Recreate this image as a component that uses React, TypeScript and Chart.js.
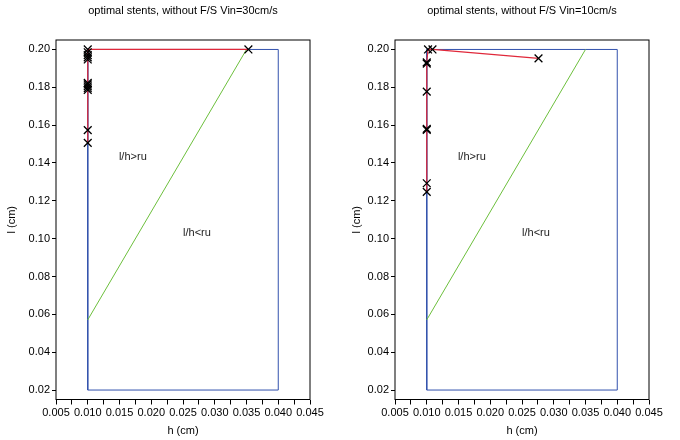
import React, { useEffect, useRef } from 'react';
import { Chart, registerables } from 'chart.js';

Chart.register(...registerables);

const FONT = "'Liberation Sans', Arial, Helvetica, sans-serif";

// ---- data ----
const chartTitles = ['optimal stents, without F/S Vin=30cm/s', 'optimal stents, without F/S Vin=10cm/s'];
const xTickValues = [0.005, 0.01, 0.015, 0.02, 0.025, 0.03, 0.035, 0.04, 0.045];
const yTickValues = [0.02, 0.04, 0.06, 0.08, 0.1, 0.12, 0.14, 0.16, 0.18, 0.2];
const xAxisLabel = 'h (cm)';
const yAxisLabel = 'l (cm)';

// admissible domain (blue box)
const boxH = [0.01, 0.04, 0.04, 0.01, 0.01];
const boxL = [0.02, 0.02, 0.2, 0.2, 0.02];

// l/h = ru line (green)
const ruLineH = [0.01, 0.035];
const ruLineL = [0.0571, 0.2];

// optimal stents, Vin = 30 cm/s
const optH30 = [0.01, 0.01, 0.01, 0.01, 0.01, 0.01, 0.01, 0.01, 0.01, 0.01, 0.01, 0.01, 0.0353];
const optL30 = [0.1506, 0.1574, 0.1786, 0.1795, 0.1805, 0.1815, 0.1823, 0.1947, 0.1958, 0.197, 0.1985, 0.2, 0.2];

// optimal stents, Vin = 10 cm/s
const optH10 = [0.01, 0.01, 0.01, 0.01, 0.01, 0.01, 0.01, 0.0102, 0.0109, 0.0276];
const optL10 = [0.1247, 0.1293, 0.1575, 0.158, 0.1777, 0.1925, 0.1932, 0.2, 0.2, 0.1953];

// region annotations
const regionText = ['l/h>ru', 'l/h<ru'];
const regionH = [0.0171, 0.0272];
const regionL = [0.1432, 0.103];

const toPts = (h: number[], l: number[]) => h.map((v, i) => ({ x: v, y: l[i] }));

function makeConfig(title: string, optH: number[], optL: number[], yWidth: number, rightPad: number, yTitlePad: number): any {
  const overlay = {
    id: 'overlay',
    afterDatasetsDraw(chart: any) {
      const { ctx, chartArea, scales } = chart;
      ctx.save();
      // frame
      ctx.strokeStyle = '#000';
      ctx.lineWidth = 1;
      ctx.strokeRect(chartArea.left, chartArea.top, chartArea.right - chartArea.left, chartArea.bottom - chartArea.top);
      // region texts
      ctx.fillStyle = '#222';
      ctx.font = `11px ${FONT}`;
      ctx.textAlign = 'center';
      ctx.textBaseline = 'middle';
      regionText.forEach((t, i) => {
        ctx.fillText(t, scales.x.getPixelForValue(regionH[i]), scales.y.getPixelForValue(regionL[i]));
      });
      // title
      ctx.fillStyle = '#000';
      ctx.font = `11px ${FONT}`;
      ctx.fillText(title, (chartArea.left + chartArea.right) / 2, 11);
      ctx.restore();
    },
  };

  return {
    type: 'scatter',
    data: {
      datasets: [
        {
          label: 'optimal',
          data: toPts(optH, optL),
          showLine: false,
          pointStyle: 'crossRot',
          pointRadius: 5.5,
          pointBorderColor: '#000',
          pointBackgroundColor: '#000',
          pointBorderWidth: 1.3,
        },
        {
          label: 'path',
          data: toPts(optH, optL),
          showLine: true,
          borderColor: '#e0283a',
          borderWidth: 1.2,
          pointRadius: 0,
        },
        {
          label: 'ru',
          data: toPts(ruLineH, ruLineL),
          showLine: true,
          borderColor: '#6cbf3c',
          borderWidth: 1,
          pointRadius: 0,
        },
        {
          label: 'box',
          data: toPts(boxH, boxL),
          showLine: true,
          borderColor: '#3352ad',
          borderWidth: 1,
          pointRadius: 0,
        },
      ],
    },
    options: {
      responsive: false,
      animation: false,
      layout: { padding: { top: 40, right: rightPad, bottom: 0, left: 0 } },
      plugins: { legend: { display: false }, tooltip: { enabled: false }, title: { display: false } },
      scales: {
        x: {
          type: 'linear',
          position: 'bottom',
          min: 0.005,
          max: 0.045,
          afterBuildTicks: (s: any) => {
            const t: any[] = [];
            xTickValues.forEach((v, i) => {
              t.push({ value: v });
              if (i < xTickValues.length - 1) t.push({ value: (v + xTickValues[i + 1]) / 2 });
            });
            s.ticks = t;
          },
          afterFit: (s: any) => {
            s.height = 40.5;
          },
          ticks: {
            autoSkip: false,
            maxRotation: 0,
            padding: 2,
            color: '#000',
            font: { size: 11, family: FONT },
            callback: (v: number, i: number) => (i % 2 === 0 ? Number(v).toFixed(3) : ''),
          },
          grid: { drawOnChartArea: false, drawTicks: true, tickLength: 5, color: '#000' },
          border: { display: false },
          title: { display: true, text: xAxisLabel, color: '#000', font: { size: 11, family: FONT }, padding: { top: 0, bottom: 2 } },
        },
        y: {
          type: 'linear',
          min: 0.015,
          max: 0.205,
          afterBuildTicks: (s: any) => {
            s.ticks = yTickValues.map((v) => ({ value: v }));
          },
          afterFit: (s: any) => {
            s.width = yWidth;
          },
          ticks: {
            autoSkip: false,
            padding: 2,
            color: '#000',
            font: { size: 11, family: FONT },
            callback: (v: number) => Number(v).toFixed(2),
          },
          grid: { drawOnChartArea: false, drawTicks: true, tickLength: 4, color: '#000' },
          border: { display: false },
          title: { display: true, text: yAxisLabel, color: '#000', font: { size: 11, family: FONT }, padding: { top: yTitlePad, bottom: 0 } },
        },
      },
    },
    plugins: [overlay],
  };
}

function Panel(props: { title: string; h: number[]; l: number[]; yWidth: number; rightPad: number; yTitlePad: number; left: number }) {
  const ref = useRef<HTMLCanvasElement | null>(null);
  useEffect(() => {
    if (!ref.current) return;
    const chart = new Chart(ref.current, makeConfig(props.title, props.h, props.l, props.yWidth, props.rightPad, props.yTitlePad));
    return () => chart.destroy();
  }, []);
  return (
    <div style={{ position: 'absolute', left: props.left, top: 0, width: 340, height: 440 }}>
      <canvas ref={ref} width={340} height={440} style={{ width: 340, height: 440, display: 'block' }} />
    </div>
  );
}

export default function App() {
  return (
    <div style={{ position: 'absolute', left: 0, top: 0, width: 680, height: 440, background: '#fff' }}>
      <Panel title={chartTitles[0]} h={optH30} l={optL30} yWidth={56} rightPad={30} yTitlePad={5} left={0} />
      <Panel title={chartTitles[1]} h={optH10} l={optL10} yWidth={55} rightPad={31} yTitlePad={10} left={340} />
    </div>
  );
}
